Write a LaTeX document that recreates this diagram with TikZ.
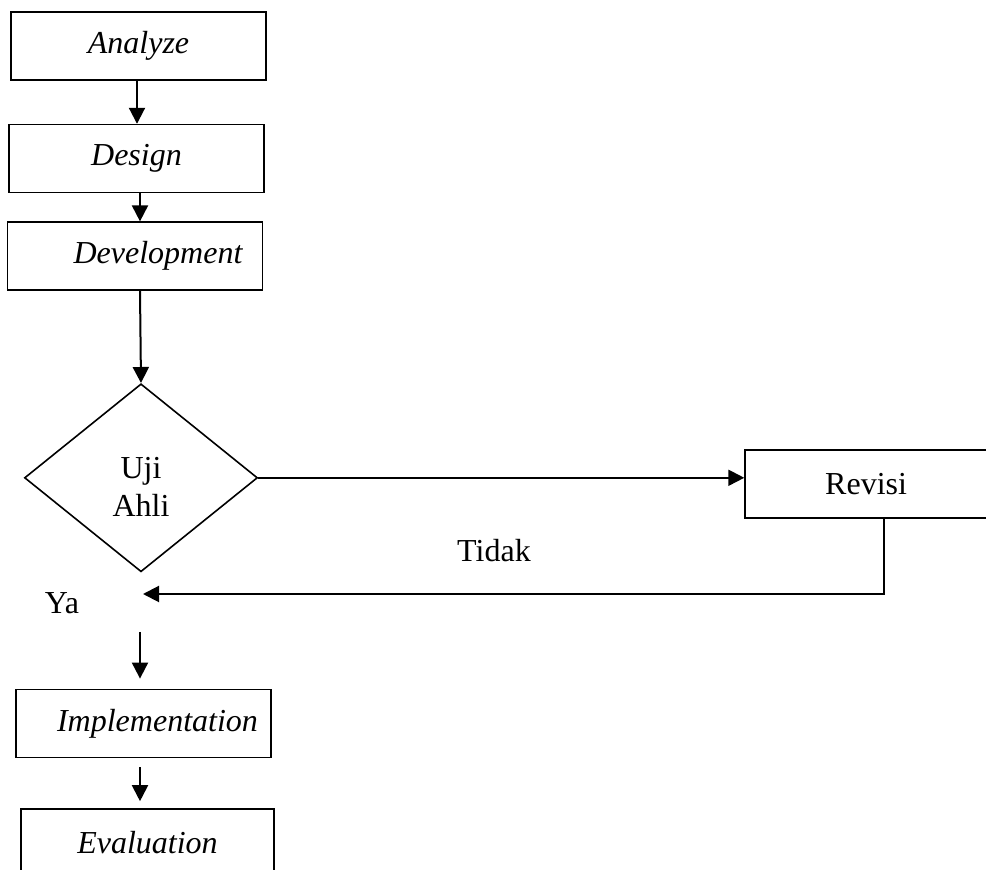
\documentclass[tikz,border=0pt]{standalone}
\usepackage{fontspec}
\setmainfont{Liberation Serif}
\usetikzlibrary{positioning, arrows.meta, shapes.geometric}

\begin{document}
\begin{tikzpicture}[
    x=0.5pt, y=-0.5pt,
    font=\fontsize{16}{19}\selectfont,
    phase/.style={
      rectangle, draw=black, line width=0.8pt,
      minimum width=127.5pt, minimum height=34pt,
      inner sep=2pt, font=\fontsize{16}{19}\selectfont\itshape
    },
    plain/.style={phase, font=\fontsize{16}{19}\selectfont},
    check/.style={
      diamond, draw=black, line width=0.8pt, align=center,
      minimum width=116.5pt, minimum height=94pt, inner sep=2pt
    },
    arr/.style={-{Triangle[length=8pt,width=8pt]}, line width=1pt},
    link/.style={line width=1pt}
  ]

  \useasboundingbox (0,0) rectangle (986,870);
  \clip (0,0) rectangle (986,870);

  % ADDIE chain
  \node[phase] (analyze) at (138.5,46) {Analyze};
  \node[phase, below=21.5pt of analyze, xshift=-1pt] (design) {Design};
  \node[phase, below=14pt of design, xshift=-0.75pt] (dev) {\hspace*{23pt}Development};

  % Validasi
  \node[check, below=46pt of dev, xshift=3pt] (uji) {\rule{0pt}{20pt}Uji\\Ahli};
  \node[plain, right=243pt of uji, yshift=-3pt, minimum width=121pt] (revisi) {Revisi};

  \node[phase, below=58pt of uji, xshift=1.25pt] (impl) {\hspace*{14pt}Implementation};
  \node[phase, below=25pt of impl, xshift=2pt, minimum width=126.5pt] (eval) {Evaluation};

  % titik bantu
  \coordinate (join) at (143,594);
  \coordinate (yaTop) at (140,632);

  \node (tidak) at (494,551) {Tidak};
  \node (ya) at (62,603) {Ya};

  % alur
  \draw[arr] ([xshift=-0.75pt]analyze.south) -- ([xshift=-0.75pt]analyze.south |- design.north);
  \draw[arr] ([xshift=1.75pt]design.south) -- ([xshift=1.75pt]design.south |- dev.north);
  \draw[arr] ([xshift=2.5pt]dev.south) -- (uji.north);
  \draw[arr] (uji.east) -- (uji.east -| revisi.west);
  \draw[arr] ([xshift=9pt]revisi.south) |- (join);
  \draw[arr, shorten >=5pt] (yaTop) -- (yaTop |- impl.north);
  \draw[arr, shorten <=4.5pt, shorten >=3.5pt] ([xshift=-1.75pt]impl.south) -- ([xshift=-1.75pt]impl.south |- eval.north);

\end{tikzpicture}
\end{document}
